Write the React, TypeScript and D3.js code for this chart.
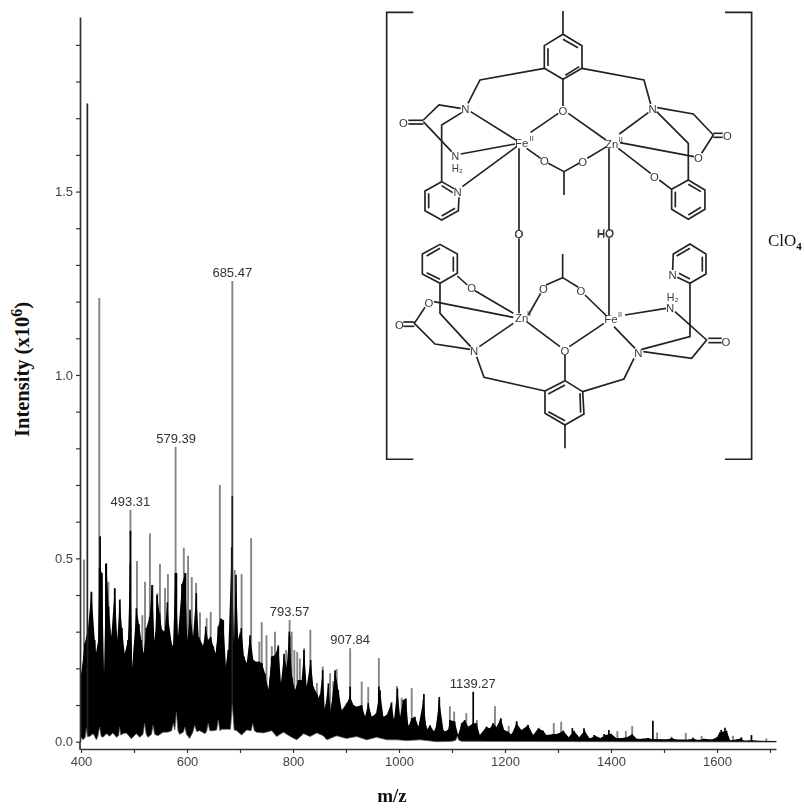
import { useEffect, useRef } from "react";
import * as d3 from "d3";

// labelled peaks
const labelMz = [493.31, 579.39, 685.47, 793.57, 907.84, 1139.27];
const labelI = [0.632, 0.804, 1.256, 0.332, 0.255, 0.136];

// tall grey sticks
const greyMz = [405.7, 420, 434.5, 451.6, 464, 473.6, 493.3, 505.6, 515.7, 520.8, 530, 535, 544, 549, 558.5, 564, 578.5, 594, 602, 609, 617, 624.5, 637, 644.7, 662, 685.5, 690, 703, 721, 736.5, 741, 750, 760, 766, 772, 787, 793.6, 797.5, 802.5, 808, 813, 821, 832.7, 845, 856, 870, 876, 882.5, 907.8, 929.6, 942, 962, 986, 996, 1005, 1024, 1096, 1104, 1127, 1147, 1181, 1207, 1264, 1292, 1306, 1412, 1428, 1440, 1487, 1514, 1541, 1571, 1630, 1693];
const greyI = [0.497, 0.406, 1.21, 0.436, 0.419, 0.389, 0.632, 0.493, 0.345, 0.436, 0.568, 0.427, 0.405, 0.485, 0.419, 0.457, 0.804, 0.529, 0.507, 0.449, 0.433, 0.352, 0.337, 0.354, 0.7, 1.256, 0.468, 0.457, 0.555, 0.273, 0.326, 0.29, 0.26, 0.3, 0.264, 0.25, 0.332, 0.3, 0.25, 0.245, 0.227, 0.255, 0.305, 0.16, 0.205, 0.187, 0.165, 0.198, 0.255, 0.164, 0.149, 0.228, 0.109, 0.152, 0.12, 0.146, 0.097, 0.082, 0.078, 0.059, 0.097, 0.043, 0.038, 0.051, 0.054, 0.029, 0.029, 0.043, 0.025, 0.014, 0.024, 0.016, 0.016, 0.009];

// sticks that stay black up to the top
const blackMz = [412, 436, 447, 493.3, 580, 597, 685.5, 793.6, 907.8, 962, 1047, 1076, 1140, 1192, 1222, 1243, 1327, 1349, 1368, 1387, 1396, 1479, 1555, 1608, 1615, 1646, 1665];
const blackI = [1.74, 0.56, 0.485, 0.575, 0.46, 0.46, 0.67, 0.29, 0.15, 0.15, 0.13, 0.122, 0.136, 0.062, 0.056, 0.046, 0.037, 0.037, 0.018, 0.021, 0.032, 0.057, 0.011, 0.032, 0.038, 0.012, 0.018];

// peaks on top of the dense black part
const edgeMz = [400, 407, 413, 419.5, 426, 431, 435, 439.6, 443.4, 447.8, 452.2, 457.2, 463.5, 468.5, 473, 477.3, 482.4, 488.6, 493, 496.8, 504.4, 509.4, 513.8, 518.2, 523.2, 529.5, 534, 539, 543.4, 548.4, 552.8, 557.8, 562.9, 567.9, 573.6, 578, 583, 590.5, 596.8, 600.6, 605.6, 611.3, 617.6, 622, 630.8, 635.2, 639.6, 644.6, 649.7, 654, 659, 663.5, 668.5, 673.6, 678, 684.3, 688.7, 692.4, 696.8, 702.5, 707.5, 712.6, 718.9, 725.1, 730.2, 736.5, 741.5, 747.2, 753.4, 759.7, 766, 772.3, 777.3, 783, 788, 793, 798, 803.8, 810, 816.3, 820.7, 825.8, 833.3, 838.4, 844.7, 850, 856, 860, 866.7, 871, 879.3, 885.6, 892, 901.3, 907.6, 914, 920, 929.6, 936, 942, 948.5, 956.7, 964.2, 970.5, 976.8, 985.6, 990.6, 997, 1002, 1008, 1013, 1017.7, 1024, 1030, 1036.6, 1046, 1052, 1058.6, 1068, 1076, 1083.7, 1086.4, 1092.7, 1096, 1105, 1111.6, 1118, 1124, 1130.5, 1140, 1146, 1152.5, 1165, 1171.4, 1177.6, 1184, 1192, 1198.4, 1206, 1212, 1221.7, 1231, 1243.7, 1253, 1262.6, 1272, 1278, 1290, 1300, 1310, 1320, 1330, 1340, 1350, 1360, 1370, 1380, 1390, 1400, 1410, 1420, 1430, 1440, 1450, 1460, 1470, 1485, 1500, 1515, 1525, 1540, 1555, 1565, 1575, 1590, 1600, 1605, 1618, 1625, 1645, 1652, 1665, 1680, 1711];
const edgeI = [0.177, 0.268, 0.305, 0.409, 0.277, 0.2, 0.473, 0.46, 0.186, 0.486, 0.368, 0.286, 0.418, 0.277, 0.386, 0.31, 0.24, 0.277, 0.486, 0.2, 0.364, 0.32, 0.277, 0.24, 0.31, 0.34, 0.427, 0.26, 0.4, 0.35, 0.305, 0.3, 0.38, 0.277, 0.26, 0.46, 0.286, 0.43, 0.46, 0.268, 0.36, 0.286, 0.405, 0.286, 0.26, 0.314, 0.277, 0.286, 0.26, 0.24, 0.314, 0.336, 0.332, 0.2, 0.25, 0.53, 0.268, 0.455, 0.268, 0.31, 0.232, 0.214, 0.29, 0.223, 0.218, 0.218, 0.214, 0.186, 0.14, 0.232, 0.236, 0.26, 0.16, 0.24, 0.2, 0.3, 0.177, 0.14, 0.168, 0.168, 0.25, 0.15, 0.223, 0.15, 0.132, 0.114, 0.195, 0.086, 0.159, 0.077, 0.195, 0.14, 0.086, 0.105, 0.123, 0.1, 0.095, 0.1, 0.068, 0.105, 0.068, 0.077, 0.14, 0.068, 0.073, 0.105, 0.059, 0.145, 0.068, 0.114, 0.118, 0.041, 0.064, 0.068, 0.041, 0.114, 0.032, 0.045, 0.023, 0.114, 0.032, 0.027, 0.032, 0.059, 0.055, 0.018, 0.05, 0.059, 0.041, 0.05, 0.05, 0.018, 0.041, 0.036, 0.05, 0.04, 0.064, 0.032, 0.027, 0.018, 0.05, 0.032, 0.045, 0.018, 0.036, 0.03, 0.018, 0.02, 0.022, 0.03, 0.012, 0.03, 0.012, 0.03, 0.008, 0.016, 0.01, 0.018, 0.022, 0.01, 0.01, 0.012, 0.02, 0.006, 0.008, 0.01, 0.004, 0.003, 0.01, 0.004, 0.003, 0.009, 0.003, 0.008, 0.006, 0.012, 0.025, 0.03, 0.003, 0.009, 0.002, 0.004, 0.002, 0.002];

// solid black mass under those peaks
const coreMz = [400, 406, 412, 417, 422, 428, 433, 440, 444, 448, 455, 462, 468, 472, 478, 486, 490, 495, 500, 506, 512, 518, 523, 530, 535, 541, 548, 553, 560, 566, 572, 575, 580, 585, 590, 596, 602, 607, 612, 618, 624, 630, 636, 642, 648, 654, 660, 666, 672, 677, 683, 690, 695, 700, 706, 712, 718, 724, 730, 736, 742, 748, 754, 760, 766, 772, 778, 784, 790, 796, 802, 808, 814, 820, 826, 832, 838, 845, 851, 857, 864, 870, 876, 884, 892, 900, 908, 916, 924, 930, 938, 944, 950, 958, 965, 972, 980, 988, 996, 1004, 1012, 1020, 1030, 1040, 1047, 1054, 1065, 1076, 1084, 1095, 1105, 1112, 1120, 1135, 1150, 1165, 1180, 1192, 1205, 1220, 1240, 1260, 1280, 1711];
const coreI = [0.177, 0.24, 0.3, 0.145, 0.27, 0.24, 0.28, 0.3, 0.14, 0.33, 0.3, 0.24, 0.17, 0.3, 0.24, 0.2, 0.28, 0.145, 0.27, 0.3, 0.2, 0.19, 0.25, 0.28, 0.25, 0.3, 0.3, 0.25, 0.32, 0.32, 0.26, 0.18, 0.3, 0.26, 0.33, 0.33, 0.27, 0.3, 0.25, 0.29, 0.14, 0.26, 0.29, 0.23, 0.22, 0.24, 0.3, 0.28, 0.19, 0.25, 0.25, 0.27, 0.27, 0.3, 0.22, 0.16, 0.28, 0.22, 0.2, 0.22, 0.18, 0.17, 0.14, 0.23, 0.15, 0.2, 0.14, 0.22, 0.19, 0.2, 0.13, 0.14, 0.15, 0.16, 0.13, 0.2, 0.12, 0.11, 0.13, 0.08, 0.11, 0.08, 0.13, 0.11, 0.07, 0.09, 0.11, 0.08, 0.08, 0.09, 0.06, 0.08, 0.06, 0.06, 0.1, 0.05, 0.06, 0.05, 0.08, 0.05, 0.07, 0.035, 0.05, 0.035, 0.07, 0.03, 0.025, 0.06, 0.025, 0.035, 0.04, 0.015, 0.04, 0.04, 0.015, 0.03, 0.03, 0.035, 0.015, 0.03, 0.02, 0.015, 0.012, 0.002];

// lower edge of the black part (white shows below it)
const floorMz = [400, 404, 408, 410, 412, 416, 423, 429, 432, 435, 438, 441.5, 448, 454, 460, 467, 471, 473, 475, 479, 485.5, 495, 504.4, 510.7, 517, 520, 523, 526.4, 533, 536, 539, 545, 555, 564, 571, 574, 577, 580, 583, 586, 593, 596, 599, 605, 611, 614.5, 618, 624, 634, 637, 640, 643, 650, 656, 659, 662, 665.4, 675, 682, 685.5, 689, 694, 703, 712.6, 721, 724, 727, 731.4, 744, 760, 769, 782, 795, 807, 820, 832, 845, 857, 864, 882, 901, 920, 939, 958, 977, 996, 1015, 1040, 1071, 1100, 1107, 1110, 1113, 1118, 1711];
const floorI = [0.012, 0.005, 0.012, 0.036, 0.014, 0.014, 0.022, 0.005, 0.015, 0.04, 0.015, 0.012, 0.022, 0.015, 0.024, 0.012, 0.016, 0.04, 0.018, 0.022, 0.024, 0.008, 0.022, 0.012, 0.02, 0.05, 0.02, 0.012, 0.02, 0.045, 0.02, 0.016, 0.026, 0.026, 0.03, 0.05, 0.032, 0.08, 0.03, 0.02, 0.026, 0.04, 0.02, 0.009, 0.026, 0.045, 0.028, 0.03, 0.022, 0.028, 0.05, 0.03, 0.03, 0.032, 0.06, 0.03, 0.034, 0.034, 0.034, 0.1, 0.032, 0.03, 0.018, 0.032, 0.03, 0.05, 0.03, 0.026, 0.024, 0.03, 0.014, 0.026, 0.014, 0.005, 0.022, 0.014, 0.024, 0.016, 0.005, 0.016, 0.009, 0.014, 0.005, 0.012, 0.005, 0.005, 0.003, 0.005, 0, 0.001, 0.004, 0.015, 0.004, 0.001, -0.001];

const xMajor = [400, 600, 800, 1000, 1200, 1400, 1600];
const xTicks = [400, 500, 600, 700, 800, 900, 1000, 1100, 1200, 1300, 1400, 1500, 1600, 1700];
const yMajor = [0, 0.5, 1, 1.5];
const yTicks = [0, 0.1, 0.2, 0.3, 0.4, 0.5, 0.6, 0.7, 0.8, 0.9, 1, 1.1, 1.2, 1.3, 1.4, 1.5, 1.6, 1.7, 1.8, 1.9];

// structure drawing, in the inset's own units (3 units = 1px)
const brackets = [
  "100,37 20,37 20,1378 100,1378",
  "1035,37 1115,37 1115,1378 1035,1378",
];
const upperBonds = [
  "549,33 549,103", "549,103 606,137 606,205 549,238 493,205 493,137 549,103",
  "549,118 594,143", "504,145 504,198", "556,226 598,200",
  "493,205 300,240 264,310", "606,205 792,240 812,312", "549,238 549,318",
  "272,335 408,420", "452,397 535,340", "565,340 678,420", "718,402 805,338",
  "242,325 177,315 130,360", "85,361 130,361", "85,372 130,372", "130,365 215,455",
  "245,338 185,375 185,545", "242,462 405,432", "247,560 410,440",
  "222,566 185,545 135,573 135,632 185,660 235,632 237,592", "146,580 146,625", "185,648 225,625", "185,557 218,578",
  "417,445 417,690", "440,445 482,475", "505,490 552,515 597,490", "622,475 680,440", "552,515 552,585",
  "687,445 687,690", "715,445 812,520", "838,540 875,568", "720,428 942,470",
  "965,460 1000,405 940,342 832,323", "1000,400 1028,400", "1000,412 1028,412",
  "830,335 925,430 925,540", "925,540 975,570 975,628 925,658 875,628 875,568 925,540",
  "925,553 963,575", "963,622 925,645", "886,575 886,622",
];
const lowerBonds = [
  "555,585 555,655", "555,452 608,485 612,552 555,585 495,550 495,483 555,452",
  "555,465 505,492", "600,490 602,548", "505,545 555,572", "555,375 555,452",
  "495,483 312,442 290,380", "608,485 732,447 762,385",
  "440,275 540,350", "568,350 672,280", "400,280 298,350", "702,290 765,355",
  "445,255 482,190", "498,165 548,143 595,172", "615,195 680,258", "548,143 548,72",
  "417,25 417,250", "687,25 687,255", "735,255 858,235",
  "885,245 980,330 935,385 790,365", "985,325 1025,325", "985,338 1025,338",
  "785,358 930,320 930,160", "892,142 930,160 978,132 978,72 930,42 880,72 878,120",
  "967,80 967,125", "930,55 890,78", "930,147 897,130",
  "400,250 285,182", "262,165 232,138",
  "180,160 232,130 232,72 180,43 127,72 127,132 180,160", "220,80 220,125", "180,55 140,78", "140,128 180,148",
  "180,160 180,250 272,350",
  "400,262 162,215", "135,232 103,280 165,342 270,358", "103,276 70,276", "103,289 70,289",
];
const upperAtoms: [string, number, number, number][] = [
  ["N", 256, 328, 34], ["O", 549, 332, 34], ["N", 818, 328, 34], ["Fe", 425, 430, 34], ["II", 455, 415, 22],
  ["Zn", 695, 432, 34], ["II", 722, 420, 22], ["O", 70, 368, 34], ["N", 226, 468, 32], ["H₂", 232, 506, 30],
  ["N", 233, 577, 34], ["O", 493, 483, 34], ["O", 608, 486, 34], ["O", 955, 475, 34], ["O", 823, 530, 34],
  ["O", 1042, 407, 34], ["O", 417, 703, 34], ["HO", 677, 700, 34],
];
const lowerAtoms: [string, number, number, number][] = [
  ["Zn", 425, 263, 34], ["II", 447, 250, 22], ["Fe", 693, 268, 34], ["II", 720, 253, 22], ["O", 555, 363, 34],
  ["N", 282, 363, 34], ["N", 775, 368, 34], ["O", 490, 178, 34], ["O", 603, 182, 34], ["O", 275, 175, 34],
  ["O", 147, 218, 34], ["O", 58, 285, 34], ["O", 1038, 336, 34], ["N", 878, 135, 34], ["N", 870, 235, 34],
  ["H₂", 878, 200, 32], ["O", 417, 13, 34], ["HO", 676, 11, 34],
];

const x = d3.scaleLinear().domain([400, 1711.3]).range([81, 776]);
const y = d3.scaleLinear().domain([0, 1.976]).range([741.7, 17]);
const sans = "'Liberation Sans', Arial, sans-serif";
const serif = "'Liberation Serif', 'Times New Roman', serif";

function Atoms({ atoms }: { atoms: [string, number, number, number][] }) {
  return (
    <>
      {atoms.map((a, i) => (
        <text key={i} x={a[1]} y={a[2]} fontSize={a[3]} textAnchor="middle" dominantBaseline="central" fill="#3a3a3a" fontFamily={sans}>
          {a[0]}
        </text>
      ))}
    </>
  );
}

export default function App() {
  const xAxisRef = useRef<SVGGElement>(null);
  const yAxisRef = useRef<SVGGElement>(null);

  useEffect(() => {
    const xAxis = d3.axisBottom(x)
      .tickValues(xTicks)
      .tickSize(4)
      .tickSizeOuter(0)
      .tickPadding(4)
      .tickFormat(d => (xMajor.includes(+d) ? String(d) : ""));
    const yAxis = d3.axisLeft(y)
      .tickValues(yTicks)
      .tickSize(4)
      .tickSizeOuter(0)
      .tickPadding(3)
      .tickFormat(d => (yMajor.includes(+d) ? d3.format(".1f")(+d) : ""));
    const styleIt = (g: d3.Selection<SVGGElement, unknown, null, undefined>) => {
      g.selectAll("text").attr("font-family", sans).attr("font-size", 13).attr("fill", "#444");
      g.selectAll("line").attr("stroke", "#333").attr("stroke-width", 1.2);
      g.select("path.domain").attr("stroke", "#333").attr("stroke-width", 1.7);
    };
    d3.select(xAxisRef.current!).call(xAxis).call(styleIt);
    d3.select(yAxisRef.current!).call(yAxis).call(styleIt);
  }, []);

  const peakArea = d3.area<number>()
    .x((_, i) => x(edgeMz[i]))
    .y0(y(-0.002))
    .y1(d => y(d));
  const coreArea = d3.area<number>()
    .x((_, i) => x(coreMz[i]))
    .y0(y(-0.002))
    .y1(d => y(d));
  const floorArea = d3.area<number>()
    .x((_, i) => x(floorMz[i]))
    .y0(y(-0.012))
    .y1(d => y(d));
  const floorLine = d3.line<number>()
    .x((_, i) => x(floorMz[i]))
    .y(d => y(d));

  return (
    <svg width={804} height={808} style={{ position: "absolute", left: 0, top: 0, background: "#fff" }}>
      <defs>
        <filter id="soft" x="-5%" y="-5%" width="110%" height="110%">
          <feGaussianBlur stdDeviation="0.4" />
        </filter>
      </defs>
      <g filter="url(#soft)">
        {greyMz.map((m, i) => (
          <line key={i} x1={x(m)} x2={x(m)} y1={y(0)} y2={y(greyI[i])} stroke="#858585" strokeWidth={1.9} />
        ))}
        <path d={peakArea(edgeI) ?? ""} fill="#000" />
        <path d={coreArea(coreI) ?? ""} fill="#000" />
        {edgeMz.map((m, i) => (
          <line key={i} x1={x(m)} x2={x(m)} y1={y(0)} y2={y(edgeI[i])} stroke="#000" strokeWidth={1.6} />
        ))}
        {blackMz.map((m, i) => (
          <line key={i} x1={x(m)} x2={x(m)} y1={y(0)} y2={y(blackI[i])} stroke={blackI[i] > 0.6 ? "#222" : "#000"} strokeWidth={1.7} />
        ))}
        <path d={floorArea(floorI) ?? ""} fill="#fff" />
        <path d={floorLine(floorI) ?? ""} fill="none" stroke="#555" strokeWidth={0.7} />

        <g ref={xAxisRef} transform="translate(0,749)" />
        <g ref={yAxisRef} transform="translate(80,0)" />
        <line x1={80} x2={80} y1={y(0)} y2={749.8} stroke="#333" strokeWidth={1.7} />
        <line x1={80} x2={81} y1={749} y2={749} stroke="#333" strokeWidth={1.7} />

        {labelMz.map((m, i) => (
          <text key={m} x={x(m)} y={y(labelI[i]) - 4} textAnchor="middle" fontSize={13} fontFamily={sans} fill="#333">
            {m.toFixed(2)}
          </text>
        ))}

        <g transform="translate(380,0) scale(0.3333)" fill="none" stroke="#222" strokeWidth={5}>
          {brackets.map(b => <polyline key={b} points={b} />)}
          {upperBonds.map((b, i) => <polyline key={i} points={b} />)}
        </g>
        <g transform="translate(380,230) scale(0.3333)" fill="none" stroke="#222" strokeWidth={5}>
          {lowerBonds.map((b, i) => <polyline key={i} points={b} />)}
        </g>
        <g transform="translate(380,0) scale(0.3333)"><Atoms atoms={upperAtoms} /></g>
        <g transform="translate(380,230) scale(0.3333)"><Atoms atoms={lowerAtoms} /></g>
      </g>

      <text transform="translate(28.5,437) rotate(-90)" fontFamily={serif} fontWeight="bold" fontSize={20.5} fill="#111">
        Intensity (x10<tspan dy={-7} fontSize={16}>6</tspan><tspan dy={7}>)</tspan>
      </text>
      <text x={392} y={802} textAnchor="middle" fontFamily={serif} fontWeight="bold" fontSize={19} fill="#111">m/z</text>
      <text x={768} y={246} fontFamily={serif} fontSize={17} fill="#111">
        ClO<tspan dy={4} fontSize={11} fontWeight="bold">4</tspan>
      </text>
    </svg>
  );
}
